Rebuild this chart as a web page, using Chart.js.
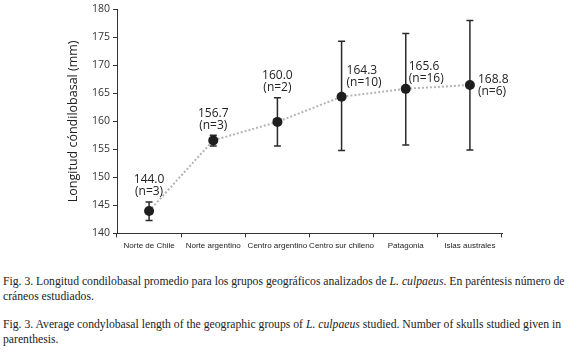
<!DOCTYPE html>
<html>
<head>
<meta charset="utf-8">
<script src="https://cdn.jsdelivr.net/npm/chart.js@4"></script>
<style>
  body { margin: 0; background: #fff; width: 580px; height: 353px; overflow: hidden; }
  #wrap { position: absolute; left: 0; top: 0; width: 580px; height: 255px; }
  .cap { position: absolute; left: 3px; width: 575px; font-family: "Liberation Serif", serif; font-size: 11.7px; line-height: 15px; color: #222; text-align: left; }
</style>
</head>
<body>
<div id="wrap"><canvas id="chart"></canvas></div>
<div class="cap" style="top:274px">Fig. 3. Longitud condilobasal promedio para los grupos geográficos analizados de <i>L. culpaeus</i>. En paréntesis número de cráneos estudiados.</div>
<div class="cap" style="top:317px">Fig. 3. Average condylobasal length of the geographic groups of <i>L. culpaeus</i> studied. Number of skulls studied given in parenthesis.</div>
<script>
const grupos = ['Norte de Chile', 'Norte argentino', 'Centro argentino', 'Centro sur chileno', 'Patagonia', 'Islas australes'];
const medias = [144.0, 156.6, 159.9, 164.4, 165.8, 166.5];   // posicion de los puntos en la figura
const maximos = [145.6, 157.5, 164.2, 174.3, 175.7, 178.0];
const minimos = [142.3, 155.6, 155.6, 154.8, 155.8, 154.9];
const etiquetas = ['144.0', '156.7', '160.0', '164.3', '165.6', '168.8'];
const tamanos = ['(n=3)', '(n=3)', '(n=2)', '(n=10)', '(n=16)', '(n=6)'];
const yTicks = [140, 145, 150, 155, 160, 165, 170, 175, 180];

// barras de error
const errorBars = {
  id: 'errorBars',
  afterDatasetsDraw(chart) {
    const ctx = chart.ctx;
    const x = chart.scales.x, y = chart.scales.y;
    ctx.save();
    ctx.strokeStyle = '#2a2a2a';
    ctx.lineWidth = 1.5;
    for (let i = 0; i < grupos.length; i++) {
      const px = x.getPixelForValue(i);
      const top = y.getPixelForValue(maximos[i]);
      const bot = y.getPixelForValue(minimos[i]);
      ctx.beginPath();
      ctx.moveTo(px, top); ctx.lineTo(px, bot);
      ctx.moveTo(px - 3.5, top); ctx.lineTo(px + 3.5, top);
      ctx.moveTo(px - 3.5, bot); ctx.lineTo(px + 3.5, bot);
      ctx.stroke();
    }
    // los puntos encima
    const meta = chart.getDatasetMeta(0);
    ctx.fillStyle = '#1e1e1e';
    meta.data.forEach(p => {
      ctx.beginPath();
      ctx.arc(p.x, p.y, 5, 0, Math.PI * 2);
      ctx.fill();
    });
    ctx.restore();
  }
};

// textos de valor y n
const dx = [0, 0, 0, 5, 3, 8];
const dy = [0, 0, 0, -26, -22, -5];
const valueLabels = {
  id: 'valueLabels',
  afterDatasetsDraw(chart) {
    const ctx = chart.ctx;
    const meta = chart.getDatasetMeta(0);
    ctx.save();
    ctx.font = '12px "Open Sans", "DejaVu Sans", sans-serif';
    ctx.fillStyle = '#222';
    ctx.textBaseline = 'middle';
    meta.data.forEach((p, i) => {
      if (i < 3) {
        ctx.textAlign = 'center';
        const top = chart.scales.y.getPixelForValue(maximos[i]);
        ctx.fillText(etiquetas[i], p.x, top - 22);
        ctx.fillText(tamanos[i], p.x, top - 10);
      } else {
        ctx.textAlign = 'left';
        ctx.fillText(etiquetas[i], p.x + dx[i], p.y + dy[i]);
        ctx.fillText(tamanos[i], p.x + dx[i], p.y + dy[i] + 12);
      }
    });
    ctx.restore();
  }
};

new Chart(document.getElementById('chart'), {
  type: 'line',
  data: {
    labels: grupos,
    datasets: [{
      data: medias,
      borderColor: '#b4b4b4',
      borderWidth: 2,
      borderDash: [2, 2],
      pointRadius: 0,
      tension: 0,
      fill: false
    }]
  },
  options: {
    responsive: true,
    maintainAspectRatio: false,
    animation: false,
    layout: { padding: { top: 3, right: 78, left: 66, bottom: 0 } },
    plugins: { legend: { display: false }, tooltip: { enabled: false } },
    scales: {
      x: {
        offset: true,
        grid: { offset: true, drawOnChartArea: false, tickLength: 4, color: '#333' },
        border: { color: '#333', width: 1 },
        ticks: { color: '#222', autoSkip: false, font: { family: '"Liberation Sans Narrow", "Liberation Sans", sans-serif', size: 8 }, maxRotation: 0, padding: 4 }
      },
      y: {
        min: 140, max: 180,
        afterBuildTicks(scale) { scale.ticks = yTicks.map(v => ({ value: v })); },
        afterFit(scale) { scale.width = 51; },
        grid: { drawOnChartArea: false, tickLength: 4, color: '#333' },
        border: { color: '#333', width: 1 },
        ticks: { color: '#333', font: { family: '"Open Sans", sans-serif', size: 10.5 }, padding: 3 },
        title: { display: true, text: 'Longitud cóndilobasal (mm)', color: '#222', font: { family: '"Open Sans", sans-serif', size: 12.5 }, padding: 0 }
      }
    }
  },
  plugins: [errorBars, valueLabels]
});
</script>
</body>
</html>
